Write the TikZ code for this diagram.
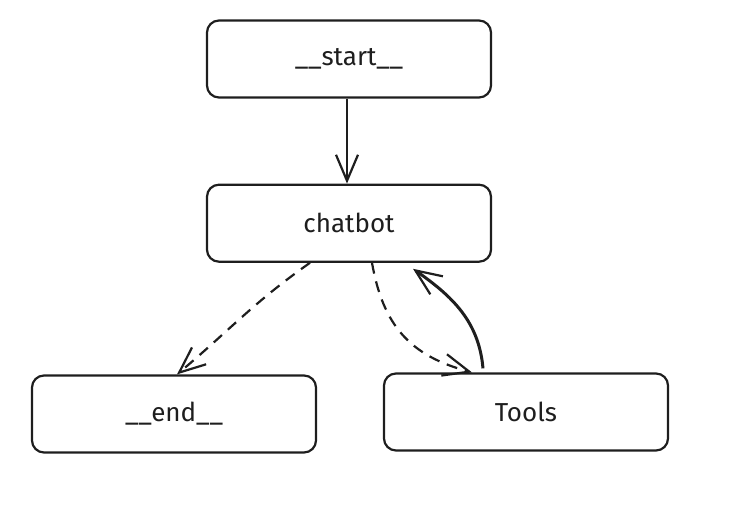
\documentclass[tikz,border=0pt]{standalone}
\usepackage{fontspec}
\setmainfont{Fira Sans}
\usepackage{tikz}
\usetikzlibrary{arrows.meta, positioning}
\definecolor{ink}{RGB}{30,30,30}

\begin{document}
\begin{tikzpicture}[
    x=1pt, y=1pt,
    node distance=85pt and 40pt,
    box/.style={rectangle, rounded corners=12pt, draw=ink, line width=2.2pt,
                minimum width=284pt, minimum height=77pt, text=ink,
                font=\fontsize{26}{30}\selectfont, inner sep=0pt},
    arr/.style={-{Straight Barb[length=26pt, width=22pt, line width=2.2pt]}, line width=2.2pt, ink},
    dasharr/.style={arr, dash pattern=on 11pt off 8pt}
  ]
    \useasboundingbox (0,0) rectangle (737,516);

    \node[box] (start) at (349,457) {\_\_start\_\_};
    \node[box, below=of start] (chatbot) {chatbot};
    \node[box] (finish) at (174,102) {\_\_end\_\_};
    \node[box] (tools)  at (526,104) {Tools};

    \draw[arr] ([xshift=-2pt]start.south) -- ([xshift=-2pt]chatbot.north);
    \draw[dasharr] ([xshift=-39pt]chatbot.south) to[out=215, in=40] ([xshift=3pt]finish.north);
    \draw[dasharr] ([xshift=23pt]chatbot.south) to[out=-80, in=165, looseness=1.1] ([xshift=-54pt]tools.north);
    \draw[arr, line width=3pt] ([xshift=-43pt, yshift=4pt]tools.north) to[out=95, in=-35] ([xshift=64pt, yshift=-6pt]chatbot.south);
\end{tikzpicture}
\end{document}
